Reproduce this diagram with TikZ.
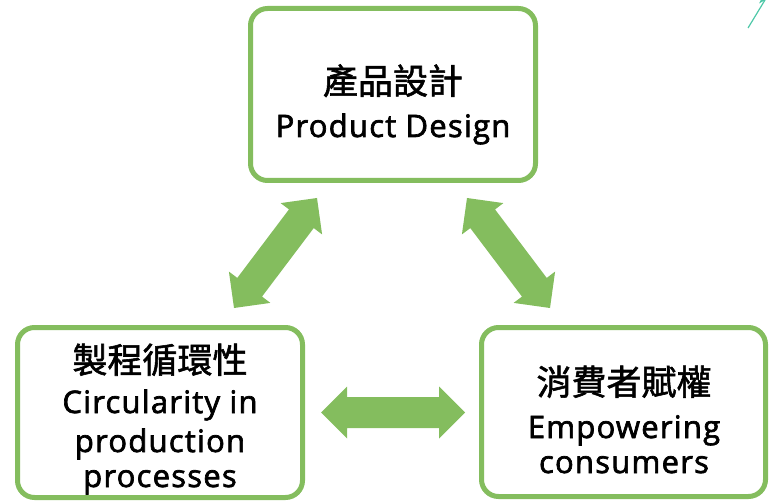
\documentclass[tikz,border=0pt]{standalone}
\usepackage{fontspec}
\setmainfont{Open Sans}
\newfontfamily\latfont{Open Sans}[FakeBold=2.2, LetterSpace=4]
\newfontfamily\cjk{Noto Sans CJK TC}[FakeBold=1.6]
\usetikzlibrary{calc}
\definecolor{boxgreen}{RGB}{132,189,94}
\definecolor{tealline}{RGB}{78,200,168}
\tikzset{
  box/.style={draw=boxgreen, line width=5pt, rounded corners=17pt, fill=white},
  cjktext/.style={anchor=base, font=\cjk\fontsize{35}{40}\selectfont},
  lattext/.style={anchor=base, font=\latfont\fontsize{31}{36}\selectfont},
  arrowfill/.style={fill=boxgreen},
}
\newcommand\blockarrow[2]{%
  \path ($(#1)!26pt!(#2)$) coordinate (ha) ($(#2)!26pt!(#1)$) coordinate (hb);
  \fill[arrowfill] (#1) -- ($(ha)!26pt!90:(#2)$) -- ($(ha)!15.5pt!90:(#2)$)
    -- ($(hb)!15.5pt!-90:(#1)$) -- ($(hb)!26pt!-90:(#1)$) -- (#2)
    -- ($(hb)!26pt!90:(#1)$) -- ($(hb)!15.5pt!90:(#1)$)
    -- ($(ha)!15.5pt!-90:(#2)$) -- ($(ha)!26pt!-90:(#2)$) -- cycle;}
\begin{document}
\begin{tikzpicture}[x=1pt,y=-1pt]
\useasboundingbox (0,0) rectangle (775,502);
% boxes
\node[box, minimum width=285pt, minimum height=172pt] (design) at (393,94.5) {};
\node[box, minimum width=285pt, minimum height=170pt] (circ) at (160,412.5) {};
\node[box, minimum width=284pt, minimum height=169pt] (cons) at (623.5,412) {};
% texts
\node[cjktext] (designzh) at (393,94) {產品設計};
\node[lattext] (designen) at (393,137) {Product Design};
\node[cjktext] (circzh) at (160,373) {製程循環性};
\node[lattext] (circen1) at (160,413) {Circularity in};
\node[lattext] (circen2) at (160,452) {production};
\node[lattext] (circen3) at (160,487) {processes};
\node[cjktext] (conszh) at (624,395) {消費者賦權};
\node[lattext] (consen1) at (624,438) {Empowering};
\node[lattext] (consen2) at (624,473) {consumers};
% arrow end points
\coordinate (a1) at (317,198);
\coordinate (a2) at (234,308);
\coordinate (b1) at (467,198);
\coordinate (b2) at (550,308);
\coordinate (c1) at (321,412.5);
\coordinate (c2) at (465,412.5);
\blockarrow{a1}{a2}
\blockarrow{b1}{b2}
\blockarrow{c1}{c2}
% teal decoration
\coordinate (t1) at (748,28);
\coordinate (t2) at (765,0);
\draw[tealline, line width=1.2pt] (t1) -- (t2);
\fill[tealline] (759,3.5) -- (766,-0.5) -- (761,-0.5) -- cycle;
\end{tikzpicture}
\end{document}
